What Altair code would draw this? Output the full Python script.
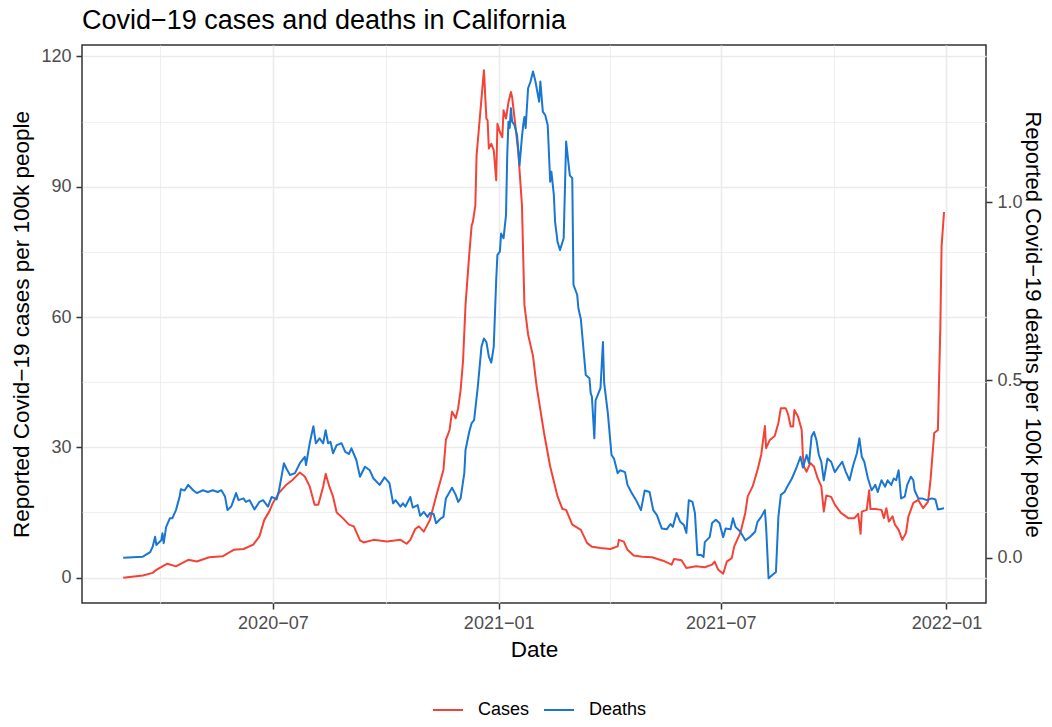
import altair as alt
import pandas as pd

TITLE = "Covid\u221219 cases and deaths in California"
Y_LEFT_TITLE = "Reported Covid\u221219 cases per 100k people"
Y_RIGHT_TITLE = "Reported Covid\u221219 deaths per 100k people"
X_TITLE = "Date"
SERIES = ["Cases", "Deaths"]
COLORS = ["#F44336", "#1976D2"]

case_dates = [
    "2020-03-01", "2020-03-17", "2020-03-25", "2020-03-28", "2020-04-02", "2020-04-06", "2020-04-13",
    "2020-04-23", "2020-04-30", "2020-05-10", "2020-05-21", "2020-05-30", "2020-06-07", "2020-06-15",
    "2020-06-20", "2020-06-24", "2020-06-28", "2020-07-01", "2020-07-06", "2020-07-12", "2020-07-17",
    "2020-07-23", "2020-07-27", "2020-07-31", "2020-08-04", "2020-08-07", "2020-08-11", "2020-08-13",
    "2020-08-16", "2020-08-19", "2020-08-22", "2020-08-27", "2020-09-01", "2020-09-05", "2020-09-10",
    "2020-09-13", "2020-09-21", "2020-10-02", "2020-10-13", "2020-10-18", "2020-10-21", "2020-10-25",
    "2020-10-28", "2020-11-01", "2020-11-06", "2020-11-11", "2020-11-17", "2020-11-19", "2020-11-22",
    "2020-11-24", "2020-11-27", "2020-11-29", "2020-12-01", "2020-12-03", "2020-12-05", "2020-12-08",
    "2020-12-10", "2020-12-11", "2020-12-13", "2020-12-14", "2020-12-16", "2020-12-18", "2020-12-20",
    "2020-12-22", "2020-12-23", "2020-12-24", "2020-12-26", "2020-12-28", "2020-12-30", "2020-12-31",
    "2021-01-02", "2021-01-04", "2021-01-05", "2021-01-07", "2021-01-09", "2021-01-11", "2021-01-12",
    "2021-01-14", "2021-01-17", "2021-01-20", "2021-01-22", "2021-01-25", "2021-01-29", "2021-02-01",
    "2021-02-07", "2021-02-12", "2021-02-18", "2021-02-22", "2021-02-25", "2021-03-02", "2021-03-09",
    "2021-03-14", "2021-03-18", "2021-03-25", "2021-04-02", "2021-04-08", "2021-04-09", "2021-04-13",
    "2021-04-16", "2021-04-21", "2021-04-28", "2021-05-06", "2021-05-15", "2021-05-22", "2021-05-24",
    "2021-05-30", "2021-06-03", "2021-06-11", "2021-06-18", "2021-06-24", "2021-06-26", "2021-06-29",
    "2021-07-03", "2021-07-06", "2021-07-10", "2021-07-12", "2021-07-17", "2021-07-21", "2021-07-23",
    "2021-07-27", "2021-07-31", "2021-08-03", "2021-08-06", "2021-08-07", "2021-08-10", "2021-08-14",
    "2021-08-17", "2021-08-19", "2021-08-23", "2021-08-25", "2021-08-27", "2021-08-29", "2021-08-30",
    "2021-09-02", "2021-09-05", "2021-09-06", "2021-09-07", "2021-09-09", "2021-09-12", "2021-09-15",
    "2021-09-18", "2021-09-21", "2021-09-23", "2021-09-25", "2021-09-29", "2021-10-02", "2021-10-07",
    "2021-10-13", "2021-10-18", "2021-10-21", "2021-10-23", "2021-10-24", "2021-10-28", "2021-10-30",
    "2021-10-31", "2021-11-04", "2021-11-09", "2021-11-11", "2021-11-13", "2021-11-15", "2021-11-18",
    "2021-11-20", "2021-11-23", "2021-11-26", "2021-11-29", "2021-12-01", "2021-12-05", "2021-12-09",
    "2021-12-13", "2021-12-17", "2021-12-19", "2021-12-22", "2021-12-25", "2021-12-27", "2021-12-28",
    "2021-12-30",
]
case_values = [
    0.0, 0.5, 1.1, 1.8, 2.6, 3.2, 2.6,
    4.1, 3.7, 4.7, 4.9, 6.4, 6.6, 7.6,
    9.5, 13.3, 15.2, 17.2, 19.5, 21.4, 22.5,
    24.2, 23.3, 21.0, 16.8, 16.8, 21.0, 23.9,
    21.0, 18.7, 15.0, 13.7, 12.2, 11.8, 8.6,
    8.1, 8.7, 8.3, 8.7, 7.8, 8.7, 11.2,
    11.8, 10.6, 13.3, 18.7, 24.8, 31.7, 34.0,
    38.2, 36.7, 39.0, 43.2, 50.0, 62.8, 74.3,
    81.1, 81.9, 85.7, 97.2, 103.7, 110.3, 116.8,
    105.7, 105.3, 98.8, 99.9, 98.4, 91.5, 104.5,
    102.6, 101.4, 107.6, 105.7, 109.5, 111.8, 110.6,
    105.7, 98.0, 85.7, 62.8, 56.0, 51.0, 44.0,
    33.3, 25.6, 18.7, 15.8, 15.6, 12.2, 11.0,
    8.0, 7.1, 6.8, 6.6, 7.2, 8.7, 8.3,
    6.4, 5.1, 4.8, 4.7, 3.9, 3.0, 4.3,
    4.0, 2.2, 2.6, 2.4, 3.0, 3.7, 1.8,
    0.9, 3.7, 4.5, 7.2, 10.3, 14.9, 18.7,
    21.0, 24.8, 28.3, 34.9, 29.8, 31.7, 32.6,
    35.6, 39.0, 39.0, 37.5, 34.8, 34.8, 38.6,
    37.1, 34.0, 27.9, 25.4, 24.4, 26.4, 25.6,
    22.9, 21.0, 15.2, 18.9, 18.6, 16.8, 14.9,
    13.7, 13.7, 14.7, 10.1, 15.2, 15.6, 20.1,
    15.8, 15.8, 15.6, 13.7, 16.0, 12.9, 14.1,
    12.2, 11.0, 8.7, 10.3, 14.1, 17.2, 17.9,
    16.0, 17.5, 22.5, 33.3, 34.0, 57.8, 76.2,
    84.2,
]

death_dates = [
    "2020-03-01", "2020-03-17", "2020-03-23", "2020-03-25", "2020-03-27", "2020-03-28", "2020-04-01",
    "2020-04-02", "2020-04-03", "2020-04-05", "2020-04-08", "2020-04-10", "2020-04-13", "2020-04-16",
    "2020-04-17", "2020-04-20", "2020-04-23", "2020-04-27", "2020-04-30", "2020-05-05", "2020-05-09",
    "2020-05-13", "2020-05-17", "2020-05-20", "2020-05-23", "2020-05-25", "2020-05-28", "2020-06-01",
    "2020-06-03", "2020-06-07", "2020-06-09", "2020-06-12", "2020-06-16", "2020-06-20", "2020-06-23",
    "2020-06-27", "2020-06-30", "2020-07-04", "2020-07-06", "2020-07-10", "2020-07-12", "2020-07-15",
    "2020-07-19", "2020-07-23", "2020-07-27", "2020-07-28", "2020-07-31", "2020-08-03", "2020-08-05",
    "2020-08-08", "2020-08-11", "2020-08-13", "2020-08-15", "2020-08-17", "2020-08-19", "2020-08-22",
    "2020-08-26", "2020-08-29", "2020-09-01", "2020-09-03", "2020-09-07", "2020-09-10", "2020-09-14",
    "2020-09-18", "2020-09-21", "2020-09-26", "2020-09-30", "2020-10-04", "2020-10-07", "2020-10-09",
    "2020-10-13", "2020-10-15", "2020-10-17", "2020-10-21", "2020-10-23", "2020-10-27", "2020-10-29",
    "2020-11-01", "2020-11-04", "2020-11-06", "2020-11-09", "2020-11-11", "2020-11-15", "2020-11-17",
    "2020-11-19", "2020-11-24", "2020-11-27", "2020-11-29", "2020-12-01", "2020-12-04", "2020-12-05",
    "2020-12-08", "2020-12-10", "2020-12-12", "2020-12-15", "2020-12-18", "2020-12-20", "2020-12-22",
    "2020-12-24", "2020-12-26", "2020-12-28", "2020-12-29", "2020-12-30", "2020-12-31", "2021-01-02",
    "2021-01-03", "2021-01-05", "2021-01-07", "2021-01-08", "2021-01-09", "2021-01-10", "2021-01-11",
    "2021-01-12", "2021-01-14", "2021-01-16", "2021-01-18", "2021-01-20", "2021-01-21", "2021-01-22",
    "2021-01-23", "2021-01-25", "2021-01-27", "2021-01-29", "2021-01-31", "2021-02-03", "2021-02-04",
    "2021-02-06", "2021-02-08", "2021-02-10", "2021-02-12", "2021-02-13", "2021-02-15", "2021-02-16",
    "2021-02-18", "2021-02-20", "2021-02-23", "2021-02-25", "2021-02-28", "2021-03-02", "2021-03-03",
    "2021-03-06", "2021-03-07", "2021-03-09", "2021-03-13", "2021-03-16", "2021-03-17", "2021-03-18",
    "2021-03-20", "2021-03-21", "2021-03-25", "2021-03-27", "2021-03-28", "2021-03-31", "2021-04-03",
    "2021-04-05", "2021-04-08", "2021-04-10", "2021-04-14", "2021-04-16", "2021-04-19", "2021-04-23",
    "2021-04-27", "2021-04-30", "2021-05-04", "2021-05-07", "2021-05-10", "2021-05-14", "2021-05-18",
    "2021-05-21", "2021-05-23", "2021-05-26", "2021-05-29", "2021-06-01", "2021-06-03", "2021-06-05",
    "2021-06-08", "2021-06-10", "2021-06-12", "2021-06-15", "2021-06-17", "2021-06-18", "2021-06-22",
    "2021-06-24", "2021-06-27", "2021-06-30", "2021-07-03", "2021-07-05", "2021-07-09", "2021-07-11",
    "2021-07-13", "2021-07-17", "2021-07-21", "2021-07-25", "2021-07-29", "2021-07-31", "2021-08-03",
    "2021-08-06", "2021-08-07", "2021-08-09", "2021-08-13", "2021-08-15", "2021-08-17", "2021-08-19",
    "2021-08-22", "2021-08-25", "2021-08-28", "2021-09-01", "2021-09-04", "2021-09-06", "2021-09-09",
    "2021-09-11", "2021-09-13", "2021-09-15", "2021-09-17", "2021-09-19", "2021-09-21", "2021-09-23",
    "2021-09-26", "2021-09-29", "2021-10-02", "2021-10-05", "2021-10-08", "2021-10-11", "2021-10-14",
    "2021-10-17", "2021-10-20", "2021-10-22", "2021-10-24", "2021-10-26", "2021-10-29", "2021-11-01",
    "2021-11-04", "2021-11-06", "2021-11-09", "2021-11-12", "2021-11-14", "2021-11-17", "2021-11-19",
    "2021-11-21", "2021-11-23", "2021-11-25", "2021-11-28", "2021-11-30", "2021-12-03", "2021-12-05",
    "2021-12-06", "2021-12-09", "2021-12-12", "2021-12-16", "2021-12-20", "2021-12-23", "2021-12-25",
    "2021-12-30",
]
death_values = [
    0.000, 0.003, 0.016, 0.031, 0.059, 0.036, 0.049,
    0.069, 0.041, 0.087, 0.111, 0.111, 0.134, 0.172,
    0.193, 0.189, 0.205, 0.190, 0.182, 0.190, 0.185,
    0.190, 0.185, 0.190, 0.172, 0.134, 0.144, 0.182,
    0.162, 0.167, 0.157, 0.162, 0.136, 0.157, 0.162,
    0.144, 0.171, 0.164, 0.190, 0.266, 0.251, 0.233,
    0.238, 0.266, 0.284, 0.261, 0.322, 0.370, 0.322,
    0.336, 0.322, 0.359, 0.322, 0.326, 0.294, 0.317,
    0.322, 0.298, 0.292, 0.308, 0.275, 0.228, 0.256,
    0.246, 0.223, 0.205, 0.226, 0.210, 0.153, 0.162,
    0.144, 0.153, 0.144, 0.171, 0.141, 0.148, 0.118,
    0.129, 0.115, 0.126, 0.123, 0.097, 0.111, 0.115,
    0.167, 0.197, 0.177, 0.157, 0.167, 0.238, 0.303,
    0.354, 0.379, 0.387, 0.481, 0.594, 0.617, 0.607,
    0.566, 0.549, 0.594, 0.687, 0.781, 0.852, 0.861,
    0.912, 0.899, 0.964, 1.133, 1.227, 1.209, 1.265,
    1.227, 1.217, 1.189, 1.104, 1.184, 1.217, 1.240,
    1.209, 1.321, 1.340, 1.368, 1.340, 1.283, 1.340,
    1.255, 1.245, 1.217, 1.058, 1.086, 1.020, 0.945,
    0.889, 0.866, 0.899, 1.171, 1.076, 1.068, 0.768,
    0.740, 0.702, 0.671, 0.514, 0.505, 0.463, 0.453,
    0.336, 0.443, 0.477, 0.607, 0.491, 0.407, 0.289,
    0.279, 0.238, 0.246, 0.241, 0.205, 0.185, 0.162,
    0.134, 0.189, 0.185, 0.134, 0.120, 0.082, 0.080,
    0.095, 0.087, 0.126, 0.101, 0.092, 0.070, 0.162,
    0.157, 0.125, 0.008, 0.008, 0.002, 0.044, 0.058,
    0.098, 0.107, 0.098, 0.058, 0.082, 0.080, 0.111,
    0.087, 0.073, 0.049, 0.059, 0.073, 0.101, 0.115,
    0.134, 0.087, -0.058, -0.046, -0.040, 0.115, 0.177,
    0.185, 0.205, 0.223, 0.256, 0.284, 0.254, 0.289,
    0.266, 0.341, 0.354, 0.331, 0.289, 0.270, 0.218,
    0.279, 0.270, 0.241, 0.256, 0.270, 0.241, 0.218,
    0.261, 0.294, 0.336, 0.284, 0.270, 0.223, 0.190,
    0.205, 0.185, 0.218, 0.200, 0.218, 0.205, 0.223,
    0.218, 0.246, 0.167, 0.172, 0.205, 0.228, 0.218,
    0.190, 0.167, 0.167, 0.162, 0.167, 0.164, 0.136,
    0.139,
]

left_ticks = [0, 15, 30, 45, 60, 75, 90, 105, 120]
right_ticks = [0.0, 0.5, 1.0]
x_ticks = ["2020-03-31", "2020-07-01", "2020-10-01", "2021-01-01",
           "2021-04-01T12:00:00", "2021-07-01", "2021-10-01", "2022-01-01"]
x_domain = ["2020-01-27T10:00:00", "2022-02-02T05:00:00"]
left_domain = [-5.84, 122.64]
right_domain = [-0.1273, 1.4426]


def ms(s):
    return int(pd.Timestamp(s, tz="UTC").timestamp() * 1000)


df = pd.DataFrame(
    [{"date": d, "value": v, "series": "Cases"} for d, v in zip(case_dates, case_values)]
    + [{"date": d, "value": v, "series": "Deaths"} for d, v in zip(death_dates, death_values)]
)

FONT = "Liberation Sans"
major_x = "(utcmonth(datum.value) == 0 || utcmonth(datum.value) == 6) && utcdate(datum.value) == 1 && utchours(datum.value) == 0"
major_y = "datum.value % 30 == 0"

x_enc = alt.X(
    "date:T",
    title=X_TITLE,
    scale=alt.Scale(type="utc", domain=[ms(d) for d in x_domain], nice=False),
    axis=alt.Axis(
        values=[ms(d) for d in x_ticks],
        labelExpr="(" + major_x + ") ? utcFormat(datum.value, '%Y') + '\u2212' + utcFormat(datum.value, '%m') : ''",
        gridWidth={"condition": {"test": major_x, "value": 1.6}, "value": 0.8},
        tickOpacity={"condition": {"test": major_x, "value": 1}, "value": 0},
        labelOverlap=False,
        labelFlush=False,
        titlePadding=6,
    ),
)

color_enc = alt.Color(
    "series:N",
    title=None,
    scale=alt.Scale(domain=SERIES, range=COLORS),
    legend=alt.Legend(
        orient="none",
        legendX=350,
        legendY=649,
        direction="horizontal",
        symbolType="stroke",
        symbolSize=900,
        symbolStrokeWidth=2,
        labelFontSize=18,
        labelColor="black",
        labelFont=FONT,
        labelOffset=14,
        columnPadding=10,
        padding=0,
    ),
)

cases = alt.Chart(df).transform_filter(alt.datum.series == "Cases").mark_line(
    strokeWidth=2, strokeJoin="round"
).encode(
    x=x_enc,
    y=alt.Y(
        "value:Q",
        title=Y_LEFT_TITLE,
        scale=alt.Scale(domain=left_domain, nice=False, zero=False),
        axis=alt.Axis(
            orient="left",
            values=left_ticks,
            labelExpr="(" + major_y + ") ? format(datum.value, 'd') : ''",
            gridWidth={"condition": {"test": major_y, "value": 1.6}, "value": 0.8},
            tickOpacity={"condition": {"test": major_y, "value": 1}, "value": 0},
            labelOverlap=False,
            titlePadding=7,
        ),
    ),
    color=color_enc,
)

deaths = alt.Chart(df).transform_filter(alt.datum.series == "Deaths").mark_line(
    strokeWidth=2, strokeJoin="round"
).encode(
    x=x_enc,
    y=alt.Y(
        "value:Q",
        title=Y_RIGHT_TITLE,
        scale=alt.Scale(domain=right_domain, nice=False, zero=False),
        axis=alt.Axis(
            orient="right",
            values=right_ticks,
            format=".1f",
            grid=False,
            labelOverlap=False,
            titleFontSize=22,
            titlePadding=-2,
        ),
    ),
    color=color_enc,
)

chart = (
    alt.layer(cases, deaths)
    .resolve_scale(y="independent")
    .properties(
        width=904,
        height=558,
        autosize=alt.AutoSizeParams(type="none"),
        padding={"left": 74, "top": 37, "right": 58, "bottom": 116},
        title=alt.TitleParams(
            text=TITLE,
            anchor="start",
            frame="group",
            fontSize=27,
            fontWeight="normal",
            color="black",
            font=FONT,
            offset=10,
        ),
    )
    .configure(font=FONT)
    .configure_view(stroke="#333333", strokeWidth=1.5)
    .configure_axis(
        domain=False,
        tickColor="#333333",
        tickWidth=1.5,
        tickSize=6,
        labelFont=FONT,
        labelFontSize=18,
        labelColor="#4D4D4D",
        labelPadding=5,
        titleFont=FONT,
        titleFontSize=22.5,
        titleFontWeight="normal",
        titleColor="black",
        gridColor="#EBEBEB",
    )
)

chart.save("out.html", embed_options={"renderer": "svg", "actions": False})
